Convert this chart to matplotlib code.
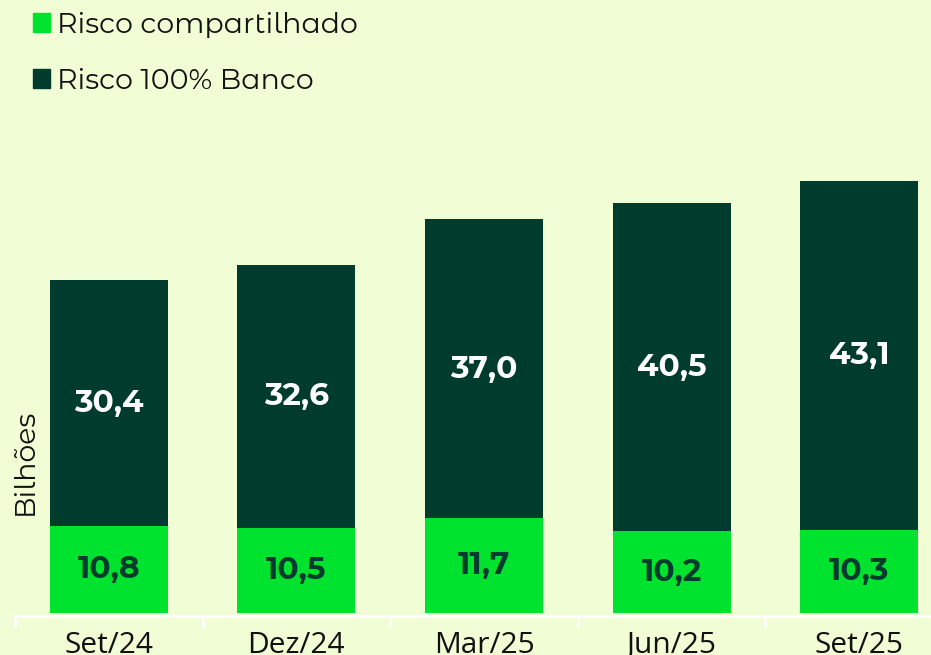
import matplotlib
matplotlib.use("Agg")
import matplotlib.pyplot as plt
from matplotlib.patches import Patch

# Dados (R$ bilhões)
periodos = ["Set/24", "Dez/24", "Mar/25", "Jun/25", "Set/25"]
risco_compartilhado = [10.8, 10.5, 11.7, 10.2, 10.3]
risco_banco = [30.4, 32.6, 37.0, 40.5, 43.1]

FUNDO = "#F0FDD5"
VERDE = "#00E32E"
VERDE_ESCURO = "#003C2D"
TEXTO = "#111111"

# Montserrat vem só como variável (peso 100); a versão Alternates tem pesos estáticos
plt.rcParams["font.family"] = ["Montserrat Alternates", "Open Sans", "DejaVu Sans"]
FONTE_EIXO = ["Open Sans", "DejaVu Sans"]  # evita o z/J/M alternativos


def fmt(v):
    return f"{v:.1f}".replace(".", ",")


fig = plt.figure(figsize=(9.31, 6.55), dpi=100, facecolor=FUNDO)
ax = fig.add_axes([15 / 931, 42 / 655, 938 / 931, 443 / 655], facecolor=FUNDO)

x = list(range(len(periodos)))
largura = 0.63
ax.bar(x, risco_compartilhado, width=largura, color=VERDE, label="Risco compartilhado")
ax.bar(x, risco_banco, width=largura, bottom=risco_compartilhado,
       color=VERDE_ESCURO, label="Risco 100% Banco")

for i in x:
    c = risco_compartilhado[i]
    b = risco_banco[i]
    ax.text(i, c / 2, fmt(c), ha="center", va="center", color=VERDE_ESCURO,
            fontsize=22.5, fontweight="bold")
    ax.text(i, c + b / 2, fmt(b), ha="center", va="center", color="white",
            fontsize=22.5, fontweight="bold")

ax.set_xlim(-0.5, 4.5)
ax.set_ylim(0, 54.8)
ax.set_yticks([])
for s in ["top", "right", "left"]:
    ax.spines[s].set_visible(False)
ax.spines["bottom"].set_color("white")
ax.spines["bottom"].set_linewidth(2)
ax.spines["bottom"].set_position(("outward", 2))

# ticks nos limites entre categorias, rótulos no centro
ax.set_xticks([i - 0.5 for i in range(len(periodos) + 1)])
ax.set_xticklabels([])
ax.set_xticks(x, minor=True)
ax.set_xticklabels(periodos, minor=True, fontsize=21.5, color=TEXTO, family=FONTE_EIXO)
ax.tick_params(axis="x", which="major", length=8, width=2, color="white")
ax.tick_params(axis="x", which="minor", length=0, pad=11)

fig.text(25 / 931, 1 - 462 / 655, "Bilhões", rotation=90, ha="center",
         va="center", fontsize=20.5, color=TEXTO)

handles = [Patch(color=VERDE, label="Risco compartilhado"),
           Patch(color=VERDE_ESCURO, label="Risco 100% Banco")]
fig.legend(handles=handles, loc="upper left", bbox_to_anchor=(7 / 931, 1 + 14 / 655),
           frameon=False, fontsize=20.5, handlelength=0.62, handleheight=0.62,
           handletextpad=0.22, labelspacing=1.05, labelcolor=TEXTO)

fig.savefig("out.png", dpi=100, facecolor=FUNDO)
